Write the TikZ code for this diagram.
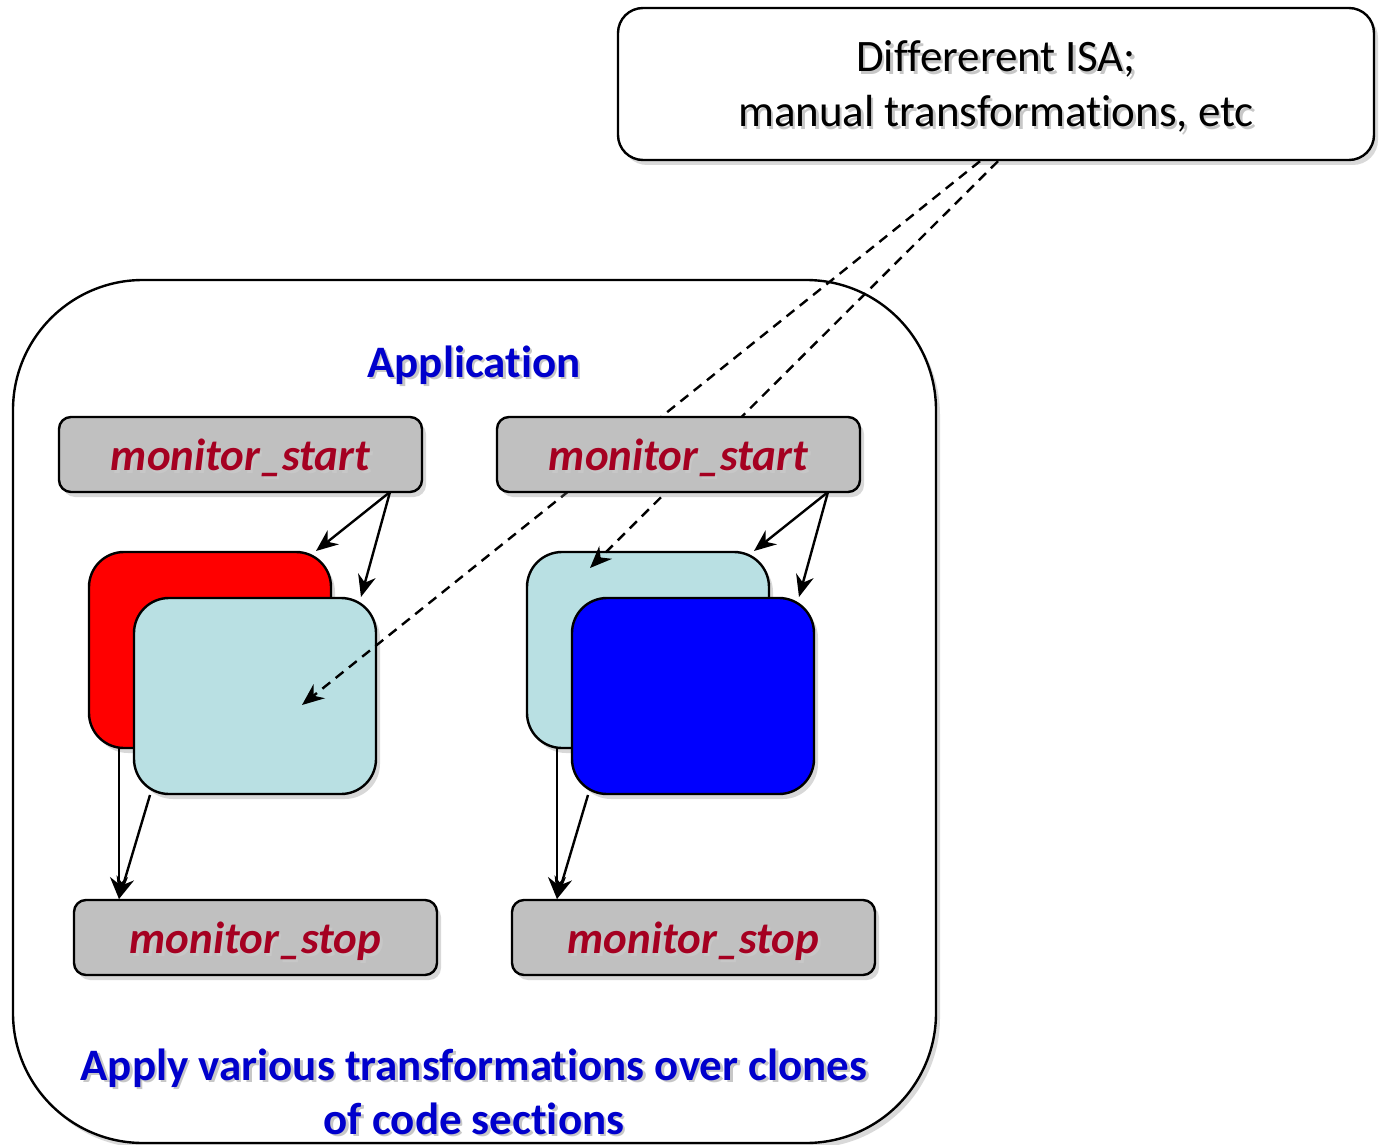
\documentclass[tikz,border=0pt]{standalone}
\usepackage{fontspec}
\setmainfont[Ligatures=NoCommon]{Carlito}
\usetikzlibrary{shadows,arrows.meta}
\definecolor{cyanbox}{RGB}{185,224,227}
\definecolor{graybox}{RGB}{192,192,192}
\definecolor{montext}{RGB}{165,0,33}
\definecolor{bluetext}{RGB}{0,0,204}
\newcommand\shtext[1]{\makebox[0pt][l]{\hspace{2.5pt}\raisebox{-2.5pt}{\textcolor{black!22}{#1}}}#1}
\tikzset{
  shade/.style={drop shadow={opacity=0.3,shadow xshift=4pt,shadow yshift=-5pt}},
  monbox/.style={draw=black,line width=2.4pt,fill=graybox,rounded corners=12pt,
    minimum width=363pt,minimum height=75pt,shade,text height=38pt,text depth=6pt,
    font=\fontsize{45}{50}\selectfont\bfseries\itshape,text=montext,inner sep=0pt},
  codebox/.style={draw=black,line width=2.4pt,rounded corners=35pt,
    minimum width=242pt,minimum height=196pt,shade,inner sep=0pt},
  arr/.style={line width=2.4pt,-{Stealth[length=22pt,width=18pt]}},
  darr/.style={line width=2.4pt,dash pattern=on 10pt off 7pt,-{Stealth[length=22pt,width=18pt]}},
}
\begin{document}
\begin{tikzpicture}[x=1pt,y=-1pt]
\useasboundingbox (0,0) rectangle (1379,1145);
% container
\node[draw=black,line width=2.4pt,fill=white,rounded corners=130pt,minimum width=923pt,minimum height=863pt,shade,inner sep=0pt] (app) at (474.5,711.5) {};
\node[font=\fontsize{45}{50}\selectfont\bfseries,text=bluetext] (apptitle) at (474,366) {\shtext{Application}};
\node[font=\fontsize{45}{54}\selectfont\bfseries,text=bluetext,align=center] (bottom) at (474,1093) {\shtext{Apply various transformations over clones}\\\shtext{of code sections}};
% top box
\node[draw=black,line width=2.4pt,fill=white,rounded corners=25pt,minimum width=756pt,minimum height=152pt,shade,inner sep=0pt] (isa) at (996,84) {};
\node[font=\fontsize{45}{55}\selectfont,align=center] (isatext) at (996,88) {\shtext{Differerent ISA;}\\\shtext{manual transformations, etc}};
% left group
\node[monbox] (ms1) at (240.5,454.5) {\shtext{monitor\_start}};
\node[codebox,fill=red] (red1) at (210,650) {};
\node[codebox,fill=cyanbox] (cy1) at (255,696) {};
\node[monbox] (mp1) at (255.5,937.5) {\shtext{monitor\_stop}};
% right group
\node[codebox,fill=cyanbox] (cy2) at (648,650) {};
\node[codebox,fill=blue] (bl2) at (693,696) {};
\node[monbox] (mp2) at (693.5,937.5) {\shtext{monitor\_stop}};
% dashed connectors
\coordinate (t1) at (302,705);
\coordinate (t2) at (590,568);
\draw[darr] ([xshift=-16pt]isa.south) -- (t1);
\draw[darr] ([xshift=2pt]isa.south) -- (t2);
\node[monbox] (ms2) at (678.5,454.5) {\shtext{monitor\_start}};
% solid connectors
\coordinate (s1) at (390,492);
\coordinate (s2) at (828,492);
\draw[arr] (s1) -- (316,551);
\draw[arr] (s1) -- (361,597);
\draw[arr] (s2) -- (754,551);
\draw[arr] (s2) -- (799,597);
\coordinate (e1) at (119,748);
\coordinate (f1) at (150,795);
\coordinate (e2) at (557,748);
\coordinate (f2) at (588,795);
\coordinate (p1) at (119,899);
\coordinate (p2) at (557,899);
\draw[arr] (e1) -- (p1);
\draw[arr] (f1) -- (p1);
\draw[arr] (e2) -- (p2);
\draw[arr] (f2) -- (p2);
\end{tikzpicture}
\end{document}
